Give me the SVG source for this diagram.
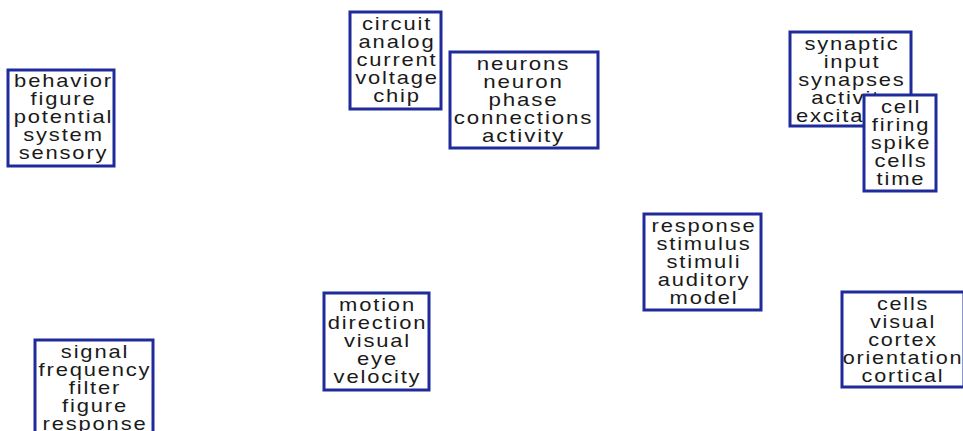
<svg xmlns="http://www.w3.org/2000/svg" width="963" height="431" viewBox="0 0 963 431">
<style>
.box{fill:#fff;stroke:#1f2b9a;stroke-width:3}
.t{font-family:"Liberation Sans",Arial,sans-serif;font-size:18px;letter-spacing:1.5px;fill:#1a1a1a;text-anchor:middle}
</style>
<rect width="963" height="431" fill="#fff"/>
<g id="n1"><rect class="box" x="8" y="70" width="106" height="96"/>
<g transform="translate(63.5 0) scale(1.22 1)"><text class="t" x="0" y="87">behavior</text><text class="t" x="0" y="105">figure</text><text class="t" x="0" y="123">potential</text><text class="t" x="0" y="141">system</text><text class="t" x="0" y="159">sensory</text></g></g>
<g id="n2"><rect class="box" x="350" y="12" width="91" height="97"/>
<g transform="translate(397 0) scale(1.22 1)"><text class="t" x="0" y="30">circuit</text><text class="t" x="0" y="48">analog</text><text class="t" x="0" y="66">current</text><text class="t" x="0" y="84">voltage</text><text class="t" x="0" y="102">chip</text></g></g>
<g id="n3"><rect class="box" x="450" y="52" width="148" height="96"/>
<g transform="translate(523.5 0) scale(1.24 1)"><text class="t" x="0" y="70">neurons</text><text class="t" x="0" y="88">neuron</text><text class="t" x="0" y="106">phase</text><text class="t" x="0" y="124">connections</text><text class="t" x="0" y="142">activity</text></g></g>
<g id="n4"><rect class="box" x="790" y="32" width="121" height="94"/>
<g transform="translate(852 0) scale(1.22 1)"><text class="t" x="0" y="50">synaptic</text><text class="t" x="0" y="68">input</text><text class="t" x="0" y="86">synapses</text><text class="t" x="0" y="104">activity</text><text class="t" x="0" y="122">excitatory</text></g></g>
<g id="n5"><rect class="box" x="864" y="95" width="72" height="96"/>
<g transform="translate(901 0) scale(1.22 1)"><text class="t" x="0" y="113">cell</text><text class="t" x="0" y="131">firing</text><text class="t" x="0" y="149">spike</text><text class="t" x="0" y="167">cells</text><text class="t" x="0" y="185">time</text></g></g>
<g id="n6"><rect class="box" x="35" y="340" width="118" height="97"/>
<g transform="translate(95 0) scale(1.22 1)"><text class="t" x="0" y="358">signal</text><text class="t" x="0" y="376">frequency</text><text class="t" x="0" y="394">filter</text><text class="t" x="0" y="412">figure</text><text class="t" x="0" y="430">response</text></g></g>
<g id="n7"><rect class="box" x="324" y="293" width="105" height="97"/>
<g transform="translate(377.5 0) scale(1.22 1)"><text class="t" x="0" y="311">motion</text><text class="t" x="0" y="329">direction</text><text class="t" x="0" y="347">visual</text><text class="t" x="0" y="365">eye</text><text class="t" x="0" y="383">velocity</text></g></g>
<g id="n8"><rect class="box" x="644" y="214" width="117" height="96"/>
<g transform="translate(704 0) scale(1.22 1)"><text class="t" x="0" y="232">response</text><text class="t" x="0" y="250">stimulus</text><text class="t" x="0" y="268">stimuli</text><text class="t" x="0" y="286">auditory</text><text class="t" x="0" y="304">model</text></g></g>
<g id="n9"><rect class="box" x="842" y="292" width="122" height="95"/>
<g transform="translate(903 0) scale(1.2 1)"><text class="t" x="0" y="310">cells</text><text class="t" x="0" y="328">visual</text><text class="t" x="0" y="346">cortex</text><text class="t" x="0" y="364">orientation</text><text class="t" x="0" y="382">cortical</text></g></g>
<g id="connectors"/>
</svg>
